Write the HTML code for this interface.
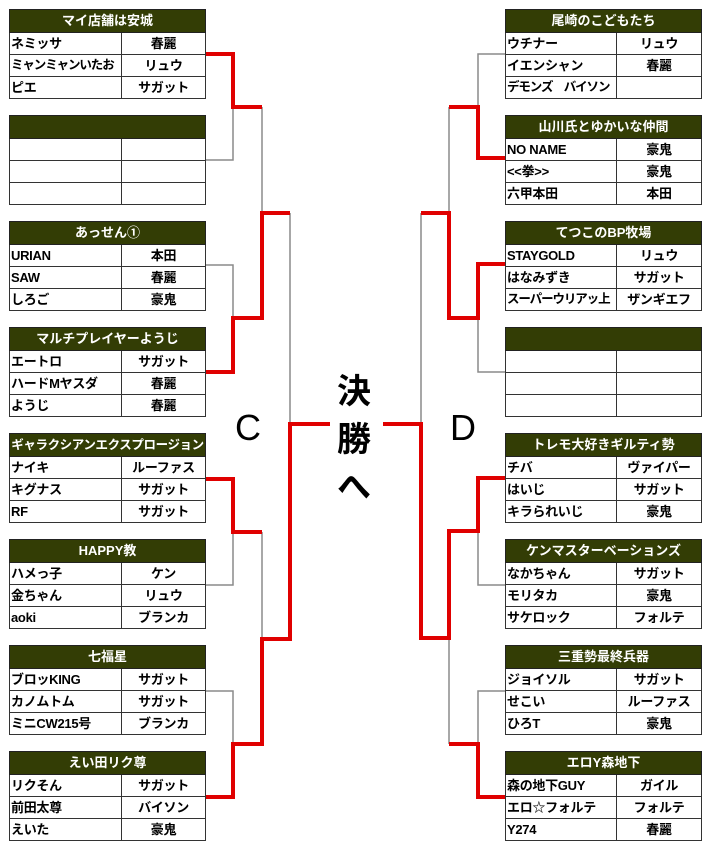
<!DOCTYPE html>
<html><head><meta charset="utf-8"><style>
body{margin:0;width:708px;height:850px;background:#fff;position:relative;overflow:hidden;font-family:"Liberation Sans","Noto Sans CJK JP",sans-serif;}
.b{position:absolute;width:196px;border-collapse:collapse;table-layout:fixed;font-weight:bold;font-size:13px;color:#000;}
.b td{border:1px solid #333;height:21px;padding:0 1px;white-space:nowrap;overflow:hidden;line-height:21px;letter-spacing:-0.3px}
.b td.t{letter-spacing:-1.1px;font-size:12.5px}
.b th{background:#333d05;color:#fff;height:22px;border:1px solid #222;font-size:13px;line-height:22px;padding:0;white-space:nowrap;overflow:hidden}
.b td.n{text-align:left}
.b td.c{text-align:center}
.L{left:9px}.R{left:505px}
svg{position:absolute;left:0;top:0}
.big{position:absolute;font-weight:bold;font-size:34px;color:#000}
.lt{position:absolute;font-size:36px;color:#000}
</style></head><body>
<svg width="708" height="850">
<g stroke="#8a8a8a" stroke-width="1.5" fill="none">
<polyline points="205,160 233,160 233,107"/>
<polyline points="262,107 262,213"/>
<polyline points="205,265 233,265 233,318"/>
<polyline points="290,213 290,424"/>
<polyline points="205,585 233,585 233,532"/>
<polyline points="262,532 262,639"/>
<polyline points="205,691 233,691 233,744"/>
<polyline points="505,54 478,54 478,107"/>
<polyline points="449,107 449,213"/>
<polyline points="505,372 478,372 478,318"/>
<polyline points="421,213 421,424"/>
<polyline points="505,585 478,585 478,531"/>
<polyline points="505,691 478,691 478,744"/>
<polyline points="449,744 449,638"/>
</g>
<g stroke="#e00000" stroke-width="4" fill="none" stroke-linejoin="miter">
<polyline points="205,54 233,54 233,107 262,107"/>
<polyline points="205,372 233,372 233,318 262,318 262,213 290,213"/>
<polyline points="205,479 233,479 233,532 262,532"/>
<polyline points="205,797 233,797 233,744 262,744 262,639 290,639 290,424 330,424"/>
<polyline points="505,158 478,158 478,107 449,107"/>
<polyline points="505,264 478,264 478,318 449,318 449,213 421,213"/>
<polyline points="505,478 478,478 478,531 449,531 449,638 421,638 421,424 383,424"/>
<polyline points="505,797 478,797 478,744 449,744"/>
</g>
</svg>

<div class="big" style="left:337px;top:364px">決</div>
<div class="big" style="left:337px;top:412px">勝</div>
<div class="big" style="left:337px;top:460px">へ</div>
<div class="lt" style="left:235px;top:407px">C</div>
<div class="lt" style="left:450px;top:407px">D</div>

<table class="b L" style="top:9px"><colgroup><col style="width:112px"><col style="width:84px"></colgroup><tr><th colspan="2">マイ店舗は安城</th></tr><tr><td class="n">ネミッサ</td><td class="c">春麗</td></tr><tr><td class="n t">ミャンミャンいたお</td><td class="c">リュウ</td></tr><tr><td class="n">ピエ</td><td class="c">サガット</td></tr></table>
<table class="b L" style="top:115px"><colgroup><col style="width:112px"><col style="width:84px"></colgroup><tr><th colspan="2">&nbsp;</th></tr><tr><td class="n"></td><td class="c"></td></tr><tr><td class="n"></td><td class="c"></td></tr><tr><td class="n"></td><td class="c"></td></tr></table>
<table class="b L" style="top:221px"><colgroup><col style="width:112px"><col style="width:84px"></colgroup><tr><th colspan="2">あっせん①</th></tr><tr><td class="n">URIAN</td><td class="c">本田</td></tr><tr><td class="n">SAW</td><td class="c">春麗</td></tr><tr><td class="n">しろご</td><td class="c">豪鬼</td></tr></table>
<table class="b L" style="top:327px"><colgroup><col style="width:112px"><col style="width:84px"></colgroup><tr><th colspan="2">マルチプレイヤーようじ</th></tr><tr><td class="n">エートロ</td><td class="c">サガット</td></tr><tr><td class="n">ハードMヤスダ</td><td class="c">春麗</td></tr><tr><td class="n">ようじ</td><td class="c">春麗</td></tr></table>
<table class="b L" style="top:433px"><colgroup><col style="width:112px"><col style="width:84px"></colgroup><tr><th colspan="2" style="font-size:12.5px;letter-spacing:-0.4px">ギャラクシアンエクスプロージョン</th></tr><tr><td class="n">ナイキ</td><td class="c">ルーファス</td></tr><tr><td class="n">キグナス</td><td class="c">サガット</td></tr><tr><td class="n">RF</td><td class="c">サガット</td></tr></table>
<table class="b L" style="top:539px"><colgroup><col style="width:112px"><col style="width:84px"></colgroup><tr><th colspan="2">HAPPY教</th></tr><tr><td class="n">ハメっ子</td><td class="c">ケン</td></tr><tr><td class="n">金ちゃん</td><td class="c">リュウ</td></tr><tr><td class="n">aoki</td><td class="c">ブランカ</td></tr></table>
<table class="b L" style="top:645px"><colgroup><col style="width:112px"><col style="width:84px"></colgroup><tr><th colspan="2">七福星</th></tr><tr><td class="n">ブロッKING</td><td class="c">サガット</td></tr><tr><td class="n">カノムトム</td><td class="c">サガット</td></tr><tr><td class="n">ミニCW215号</td><td class="c">ブランカ</td></tr></table>
<table class="b L" style="top:751px"><colgroup><col style="width:112px"><col style="width:84px"></colgroup><tr><th colspan="2">えい田リク尊</th></tr><tr><td class="n">リクそん</td><td class="c">サガット</td></tr><tr><td class="n">前田太尊</td><td class="c">バイソン</td></tr><tr><td class="n">えいた</td><td class="c">豪鬼</td></tr></table>

<table class="b R" style="top:9px"><colgroup><col style="width:111px"><col style="width:85px"></colgroup><tr><th colspan="2">尾崎のこどもたち</th></tr><tr><td class="n">ウチナー</td><td class="c">リュウ</td></tr><tr><td class="n">イエンシャン</td><td class="c">春麗</td></tr><tr><td class="n t">デモンズ　バイソン</td><td class="c"></td></tr></table>
<table class="b R" style="top:115px"><colgroup><col style="width:111px"><col style="width:85px"></colgroup><tr><th colspan="2">山川氏とゆかいな仲間</th></tr><tr><td class="n">NO NAME</td><td class="c">豪鬼</td></tr><tr><td class="n">&lt;&lt;拳&gt;&gt;</td><td class="c">豪鬼</td></tr><tr><td class="n">六甲本田</td><td class="c">本田</td></tr></table>
<table class="b R" style="top:221px"><colgroup><col style="width:111px"><col style="width:85px"></colgroup><tr><th colspan="2">てつこのBP牧場</th></tr><tr><td class="n">STAYGOLD</td><td class="c">リュウ</td></tr><tr><td class="n">はなみずき</td><td class="c">サガット</td></tr><tr><td class="n t">スーパーウリアッ上</td><td class="c">ザンギエフ</td></tr></table>
<table class="b R" style="top:327px"><colgroup><col style="width:111px"><col style="width:85px"></colgroup><tr><th colspan="2">&nbsp;</th></tr><tr><td class="n"></td><td class="c"></td></tr><tr><td class="n"></td><td class="c"></td></tr><tr><td class="n"></td><td class="c"></td></tr></table>
<table class="b R" style="top:433px"><colgroup><col style="width:111px"><col style="width:85px"></colgroup><tr><th colspan="2">トレモ大好きギルティ勢</th></tr><tr><td class="n">チバ</td><td class="c">ヴァイパー</td></tr><tr><td class="n">はいじ</td><td class="c">サガット</td></tr><tr><td class="n">キラられいじ</td><td class="c">豪鬼</td></tr></table>
<table class="b R" style="top:539px"><colgroup><col style="width:111px"><col style="width:85px"></colgroup><tr><th colspan="2">ケンマスターベーションズ</th></tr><tr><td class="n">なかちゃん</td><td class="c">サガット</td></tr><tr><td class="n">モリタカ</td><td class="c">豪鬼</td></tr><tr><td class="n">サケロック</td><td class="c">フォルテ</td></tr></table>
<table class="b R" style="top:645px"><colgroup><col style="width:111px"><col style="width:85px"></colgroup><tr><th colspan="2">三重勢最終兵器</th></tr><tr><td class="n">ジョイソル</td><td class="c">サガット</td></tr><tr><td class="n">せこい</td><td class="c">ルーファス</td></tr><tr><td class="n">ひろT</td><td class="c">豪鬼</td></tr></table>
<table class="b R" style="top:751px"><colgroup><col style="width:111px"><col style="width:85px"></colgroup><tr><th colspan="2">エロY森地下</th></tr><tr><td class="n">森の地下GUY</td><td class="c">ガイル</td></tr><tr><td class="n">エロ☆フォルテ</td><td class="c">フォルテ</td></tr><tr><td class="n">Y274</td><td class="c">春麗</td></tr></table>
</body></html>
